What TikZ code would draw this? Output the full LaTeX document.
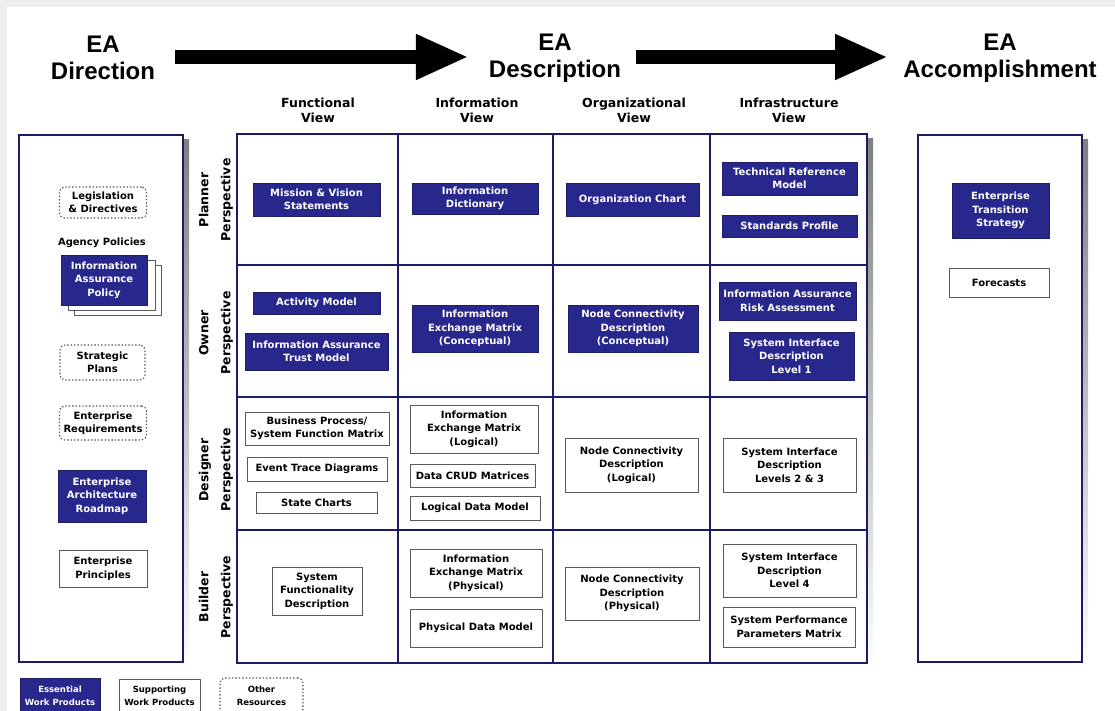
\documentclass[tikz,border=0pt]{standalone}
\usepackage{fontspec}
\setmainfont{DejaVu Sans}
\newfontfamily\headfont{Liberation Sans}
\usetikzlibrary{arrows.meta}

\definecolor{navy}{RGB}{40,40,140}
\definecolor{gridline}{RGB}{28,28,100}
\definecolor{shade}{RGB}{212,212,226}
\definecolor{frame}{RGB}{238,238,238}

\newcommand{\boxfont}{\fontsize{10}{13.5}\selectfont\bfseries}
\newcommand{\legfont}{\fontsize{8.5}{13}\selectfont\bfseries}
\newcommand{\viewfont}{\fontsize{12.5}{15}\selectfont\bfseries}
\newcommand{\perfont}{\fontsize{12.5}{22}\selectfont\bfseries}
\newcommand{\bigfont}{\headfont\fontsize{24}{27}\selectfont\bfseries}

\tikzset{
  ess/.style={fill=navy, draw=navy!75!black, line width=0.8pt, text=white,
    font=\boxfont, align=center, inner sep=1pt},
  supp/.style={fill=white, draw=gray!70!black, line width=0.9pt, text=black,
    font=\boxfont, align=center, inner sep=1pt},
  other/.style={fill=white, draw=gray!65!black, line width=1.1pt,
    dash pattern=on 1.4pt off 2pt, rounded corners=5pt, text=black,
    font=\boxfont, align=center, inner sep=1pt},
  panel/.style={draw=gridline, line width=2.4pt, fill=white},
  stage/.style={font=\bigfont, align=center, inner sep=0pt},
  viewlab/.style={font=\viewfont, align=center, inner sep=0pt},
  perslab/.style={font=\perfont, align=center, inner sep=0pt, rotate=90},
  bigarrow/.style={line width=14pt, -{Triangle[length=53pt,width=42pt]}},
}

\begin{document}
\begin{tikzpicture}[x=1pt,y=-1pt]
\useasboundingbox (0,0) rectangle (1115,711);
% page frame
\fill[frame] (0,0) rectangle (1115,711);
\fill[white] (7,7) rectangle (1115,711);

% stage headings and the arrows between them
\node[stage] (dir)  at (103,58)  {EA\\Direction};
\node[stage] (desc) at (555,58)  {EA\\Description};
\node[stage] (acc)  at (1000,58) {EA\\Accomplishment};
\draw[bigarrow, shorten <=20pt, shorten >=20pt] (dir.east |- 0,57) -- (desc.west |- 0,57);
\draw[bigarrow, shorten <=15pt, shorten >=15pt] (desc.east |- 0,57) -- (acc.west |- 0,57);

% column headings
\node[viewlab] (vfun) at (318,110.5) {Functional\\View};
\node[viewlab] (vinf) at (477,110.5) {Information\\View};
\node[viewlab] (vorg) at (634,110.5) {Organizational\\View};
\node[viewlab] (vinfra) at (789,110.5) {Infrastructure\\View};

% row headings
\node[perslab] (pplan) at (216,200) {Planner\\Perspective};
\node[perslab] (powner) at (216,333) {Owner\\Perspective};
\node[perslab] (pdes) at (216,470) {Designer\\Perspective};
\node[perslab] (pbuild) at (216,597) {Builder\\Perspective};

% drop shadows
\fill[shade] (24,140) rectangle (189,668);
\fill[shade] (242,139) rectangle (873,669);
\fill[shade] (923,140) rectangle (1088,668);

% side panels
\draw[panel] (19,135) rectangle (183,662);
\draw[panel] (918,135) rectangle (1082,662);

% the matrix
\draw[panel] (237,134) rectangle (867,663);
\foreach \x in {398,553,710} \draw[gridline, line width=2.4pt] (\x,134) -- (\x,663);
\foreach \y in {265,397,530} \draw[gridline, line width=2.4pt] (237,\y) -- (867,\y);

% direction panel
\node[other, minimum width=87, minimum height=31] (leg) at (103,202.5) {Legislation\\\& Directives};
\node[font=\boxfont, inner sep=0pt] (agency) at (102,243) {Agency Policies};
\draw[fill=white, draw=gray!70!black, line width=0.8pt] (74,265) rectangle (161,315);
\draw[fill=white, draw=gray!70!black, line width=0.8pt] (68,260) rectangle (155,310);
\node[ess, minimum width=86, minimum height=50] (iap) at (104,280) {Information\\Assurance\\Policy};
\node[other, minimum width=85, minimum height=35] (strat) at (102.5,362.5) {Strategic\\Plans};
\node[other, minimum width=87, minimum height=34] (ereq) at (103,423) {Enterprise\\Requirements};
\node[ess, minimum width=88, minimum height=52] (ear) at (102,496) {Enterprise\\Architecture\\Roadmap};
\node[supp, minimum width=88, minimum height=37] (eprin) at (103,568.5) {Enterprise\\Principles};

% planner row
\node[ess, minimum width=127, minimum height=33] (mvs) at (316.5,199.5) {Mission \& Vision\\Statements};
\node[ess, minimum width=126, minimum height=31] (idict) at (475,198.5) {Information\\Dictionary};
\node[ess, minimum width=133, minimum height=33] (orgc) at (632.5,199.5) {Organization Chart};
\node[ess, minimum width=135, minimum height=33] (trm) at (789.5,178.5) {Technical Reference\\Model};
\node[ess, minimum width=135, minimum height=22] (sprof) at (789.5,226) {Standards Profile};

% owner row
\node[ess, minimum width=127, minimum height=22] (am) at (316.5,303) {Activity Model};
\node[ess, minimum width=143, minimum height=37] (iatm) at (316.5,351.5) {Information Assurance\\Trust Model};
\node[ess, minimum width=126, minimum height=47] (iemc) at (475,328.5) {Information\\Exchange Matrix\\(Conceptual)};
\node[ess, minimum width=130, minimum height=47] (ncdc) at (633,328.5) {Node Connectivity\\Description\\(Conceptual)};
\node[ess, minimum width=137, minimum height=38] (iara) at (787.5,301) {Information Assurance\\Risk Assessment};
\node[ess, minimum width=125, minimum height=48] (sid1) at (791.5,356) {System Interface\\Description\\Level 1};

% designer row
\node[supp, minimum width=144, minimum height=33] (bpsf) at (317,428.5) {Business Process/\\System Function Matrix};
\node[supp, minimum width=140, minimum height=24] (etd) at (317,469) {Event Trace Diagrams};
\node[supp, minimum width=121, minimum height=21] (stc) at (316.5,502.5) {State Charts};
\node[supp, minimum width=128, minimum height=48] (ieml) at (474,429) {Information\\Exchange Matrix\\(Logical)};
\node[supp, minimum width=125, minimum height=23] (crud) at (472.5,475.5) {Data CRUD Matrices};
\node[supp, minimum width=130, minimum height=24] (ldm) at (475,508) {Logical Data Model};
\node[supp, minimum width=133, minimum height=54] (ncdl) at (631.5,465) {Node Connectivity\\Description\\(Logical)};
\node[supp, minimum width=133, minimum height=54] (sid23) at (789.5,465) {System Interface\\Description\\Levels 2 \& 3};

% builder row
\node[supp, minimum width=90, minimum height=48] (sfd) at (317,591) {System\\Functionality\\Description};
\node[supp, minimum width=132, minimum height=48] (iemp) at (476,573) {Information\\Exchange Matrix\\(Physical)};
\node[supp, minimum width=132, minimum height=38] (pdm) at (476,628) {Physical Data Model};
\node[supp, minimum width=134, minimum height=53] (ncdp) at (632,593.5) {Node Connectivity\\Description\\(Physical)};
\node[supp, minimum width=133, minimum height=53] (sid4) at (789.5,570.5) {System Interface\\Description\\Level 4};
\node[supp, minimum width=132, minimum height=40] (sppm) at (789,627) {System Performance\\Parameters Matrix};

% accomplishment panel
\node[ess, minimum width=97, minimum height=55] (ets) at (1000.5,210.5) {Enterprise\\Transition\\Strategy};
\node[supp, minimum width=100, minimum height=29] (fore) at (999,282.5) {Forecasts};

% legend
\node[ess, font=\legfont, minimum width=80, minimum height=36] (lgess) at (60,696) {Essential\\Work Products};
\node[supp, font=\legfont, minimum width=81, minimum height=34] (lgsup) at (159.5,696) {Supporting\\Work Products};
\node[other, font=\legfont, minimum width=83, minimum height=36] (lgoth) at (261.5,696) {Other\\Resources};
\end{tikzpicture}
\end{document}
